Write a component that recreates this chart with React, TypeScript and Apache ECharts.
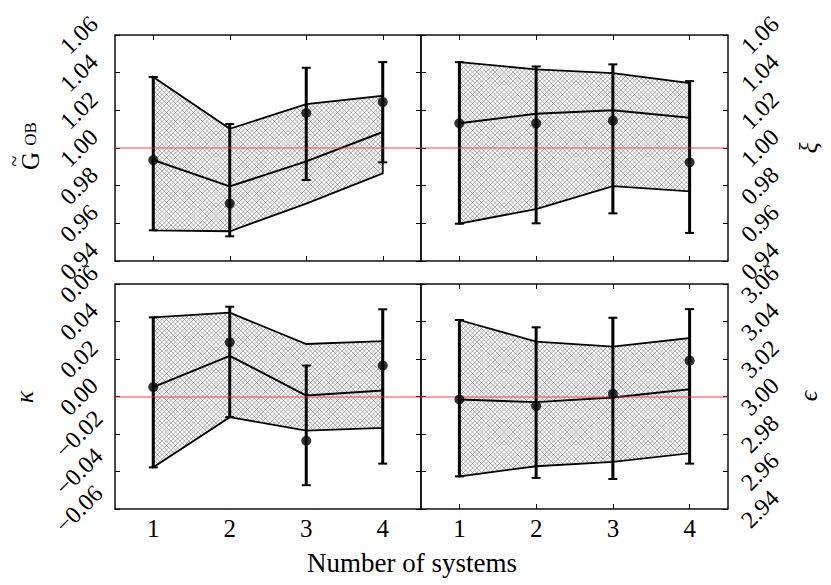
import React, { useEffect, useRef } from 'react';
import * as echarts from 'echarts';

// ---------- data ----------
const categories = ['1', '2', '3', '4'];

// Panel A: G_OB (top-left)
const gobPoint = [0.9936, 0.9705, 1.0186, 1.0244];
const gobErrLow = [0.9563, 0.9531, 0.983, 0.9924];
const gobErrHigh = [1.0377, 1.0127, 1.0426, 1.0456];
const gobUpper = [1.0377, 1.0102, 1.0233, 1.0277];
const gobMid = [0.9936, 0.9796, 0.9929, 1.0085];
const gobLower = [0.9563, 0.9558, 0.9705, 0.9865];
const gobRange = [0.94, 1.06];

// Panel B: xi (top-right)
const xiPoint = [1.0131, 1.0131, 1.0145, 0.9924];
const xiErrLow = [0.9598, 0.96, 0.9653, 0.9549];
const xiErrHigh = [1.0456, 1.0433, 1.0444, 1.0355];
const xiUpper = [1.0456, 1.0417, 1.0398, 1.0345];
const xiMid = [1.0131, 1.0182, 1.02, 1.0161];
const xiLower = [0.9598, 0.9676, 0.9798, 0.977];
const xiRange = [0.94, 1.06];

// Panel C: kappa (bottom-left)
const kPoint = [0.005, 0.0289, -0.0236, 0.0165];
const kErrLow = [-0.0378, -0.011, -0.0473, -0.0358];
const kErrHigh = [0.0422, 0.0479, 0.0165, 0.0465];
const kUpper = [0.0422, 0.0447, 0.028, 0.0295];
const kMid = [0.005, 0.0217, 0.0005, 0.0032];
const kLower = [-0.0378, -0.011, -0.0182, -0.0168];
const kRange = [-0.06, 0.06];

// Panel D: epsilon (bottom-right)
const ePoint = [2.9984, 2.9949, 3.0014, 3.0191];
const eErrLow = [2.9574, 2.9566, 2.956, 2.9642];
const eErrHigh = [3.0408, 3.0369, 3.042, 3.0466];
const eUpper = [3.0408, 3.0293, 3.0266, 3.0312];
const eMid = [2.9984, 2.997, 2.9995, 3.0039];
const eLower = [2.9574, 2.9628, 2.9651, 2.9697];
const eRange = [2.94, 3.06];

const refValues = [1.0, 1.0, 0.0, 3.0];
const yInterval = 0.02;
const xTitle = 'Number of systems';

// ---------- helpers ----------
const SERIF = 'Liberation Serif';
const HATCH_STEP = 4.5;

function fmt(v: number) {
  if (Math.abs(v) < 1e-9) return '0.00';
  return v.toFixed(2).replace('-', '\u2212');
}

export default function App() {
  const ref = useRef<HTMLDivElement>(null);

  useEffect(() => {
    const chart = echarts.init(ref.current!, undefined, { renderer: 'svg' });

    const panels = [
      { point: gobPoint, lo: gobErrLow, hi: gobErrHigh, up: gobUpper, mid: gobMid, low: gobLower, range: gobRange, side: 'left', xLabels: false },
      { point: xiPoint, lo: xiErrLow, hi: xiErrHigh, up: xiUpper, mid: xiMid, low: xiLower, range: xiRange, side: 'right', xLabels: false },
      { point: kPoint, lo: kErrLow, hi: kErrHigh, up: kUpper, mid: kMid, low: kLower, range: kRange, side: 'left', xLabels: true },
      { point: ePoint, lo: eErrLow, hi: eErrHigh, up: eUpper, mid: eMid, low: eLower, range: eRange, side: 'right', xLabels: true },
    ];

    const grids = [
      { left: 115, top: 35, width: 306, height: 226 },
      { left: 421, top: 35, width: 307, height: 226 },
      { left: 115, top: 284, width: 306, height: 225 },
      { left: 421, top: 284, width: 307, height: 225 },
    ].map((g) => ({ ...g, show: true, borderColor: '#111', borderWidth: 1.5 }));

    const xAxis: any[] = [];
    const yAxis: any[] = [];
    const series: any[] = [];

    panels.forEach((p, gi) => {
      ['bottom', 'top'].forEach((pos) => {
        xAxis.push({
          gridIndex: gi,
          type: 'category',
          data: categories,
          boundaryGap: true,
          position: pos,
          axisLine: { show: false },
          axisTick: { show: true, inside: true, length: 5, alignWithLabel: true, lineStyle: { color: '#000', width: 1 } },
          splitLine: { show: false },
          axisLabel: {
            show: pos === 'bottom' && p.xLabels,
            fontSize: 25,
            fontFamily: SERIF,
            color: '#000',
            margin: 7,
          },
        });
      });
      ['left', 'right'].forEach((pos) => {
        const main = pos === p.side;
        yAxis.push({
          gridIndex: gi,
          type: 'value',
          position: pos,
          min: p.range[0],
          max: p.range[1],
          interval: yInterval,
          axisLine: { show: false },
          axisTick: { show: true, inside: true, length: 5, lineStyle: { color: '#000', width: 1 } },
          splitLine: { show: false },
          axisLabel: {
            show: main,
            rotate: 45,
            align: 'center',
            verticalAlign: 'middle',
            margin: pos === 'left' ? 36 : 32,
            fontSize: 24,
            fontFamily: SERIF,
            color: '#000',
            formatter: (v: number) => fmt(v),
          },
        });
      });
      const xi = gi * 2;
      const yi = gi * 2;
      // hatched band (cross-hatch lines clipped to the band polygon)
      series.push({
        type: 'custom',
        xAxisIndex: xi,
        yAxisIndex: yi,
        z: 1,
        silent: true,
        data: [[0, p.up[0]]],
        renderItem: (_params: any, api: any) => {
          const pts: number[][] = [];
          p.up.forEach((v, i) => pts.push(api.coord([i, v])));
          for (let i = p.low.length - 1; i >= 0; i--) pts.push(api.coord([i, p.low[i]]));
          const xs = pts.map((q) => q[0]);
          const ys = pts.map((q) => q[1]);
          const x0 = Math.min(...xs) - 2, x1 = Math.max(...xs) + 2;
          const y0 = Math.min(...ys) - 2, y1 = Math.max(...ys) + 2;
          const lines: any[] = [];
          const hs = { stroke: '#909090', lineWidth: 0.7 };
          const cA0 = Math.floor((x0 - y1) / HATCH_STEP) * HATCH_STEP;
          for (let c = cA0; c <= x1 - y0; c += HATCH_STEP) {
            lines.push({ type: 'line', shape: { x1: y0 + c, y1: y0, x2: y1 + c, y2: y1 }, style: hs });
          }
          const cB0 = Math.floor((x0 + y0) / HATCH_STEP) * HATCH_STEP;
          for (let c = cB0; c <= x1 + y1; c += HATCH_STEP) {
            lines.push({ type: 'line', shape: { x1: c - y0, y1: y0, x2: c - y1, y2: y1 }, style: hs });
          }
          return {
            type: 'group',
            children: [
              { type: 'group', clipPath: { type: 'polygon', shape: { points: pts } }, children: lines },
              { type: 'polygon', shape: { points: pts }, style: { fill: 'none', stroke: '#000', lineWidth: 1.8 } },
            ],
          };
        },
      });
      // middle line + reference line
      series.push({
        type: 'line',
        xAxisIndex: xi,
        yAxisIndex: yi,
        z: 3,
        data: p.mid,
        symbol: 'none',
        silent: true,
        lineStyle: { color: '#000', width: 2 },
        markLine: {
          silent: true,
          symbol: ['none', 'none'],
          label: { show: false },
          lineStyle: { color: 'rgba(255,40,40,0.6)', width: 1.5, type: 'solid' },
          data: [{ yAxis: refValues[gi] }],
        },
      });
      // error bars
      series.push({
        type: 'custom',
        xAxisIndex: xi,
        yAxisIndex: yi,
        z: 4,
        silent: true,
        encode: { x: 0, y: [1, 2] },
        data: categories.map((_c, i) => [i, p.lo[i], p.hi[i]]),
        renderItem: (_params: any, api: any) => {
          const i = api.value(0);
          const top = api.coord([i, api.value(2)]);
          const bot = api.coord([i, api.value(1)]);
          const hw = 4.5;
          return {
            type: 'group',
            children: [
              { type: 'line', shape: { x1: top[0], y1: top[1], x2: bot[0], y2: bot[1] }, style: { stroke: '#000', lineWidth: 3 } },
              { type: 'line', shape: { x1: top[0] - hw, y1: top[1], x2: top[0] + hw, y2: top[1] }, style: { stroke: '#000', lineWidth: 2 } },
              { type: 'line', shape: { x1: bot[0] - hw, y1: bot[1], x2: bot[0] + hw, y2: bot[1] }, style: { stroke: '#000', lineWidth: 2 } },
            ],
          };
        },
      });
      // points
      series.push({
        type: 'scatter',
        xAxisIndex: xi,
        yAxisIndex: yi,
        z: 5,
        silent: true,
        symbolSize: 10,
        itemStyle: { color: '#000' },
        data: p.point,
      });
    });

    const graphic: any[] = [
      { type: 'text', x: 412, y: 563, style: { text: xTitle, fontSize: 27, fontFamily: SERIF, fill: '#000', align: 'center', verticalAlign: 'middle' } },
      { type: 'text', x: 30, y: 161, rotation: Math.PI / 2, style: { text: 'G', fontSize: 25, fontFamily: SERIF, fill: '#000', align: 'center', verticalAlign: 'middle' } },
      { type: 'text', x: 30, y: 134, rotation: Math.PI / 2, style: { text: 'OB', fontSize: 17, fontFamily: SERIF, fill: '#000', align: 'center', verticalAlign: 'middle' } },
      { type: 'text', x: 14, y: 161, rotation: Math.PI / 2, style: { text: '~', fontSize: 20, fontFamily: SERIF, fill: '#000', align: 'center', verticalAlign: 'middle' } },
      { type: 'text', x: 24, y: 397, rotation: Math.PI / 2, style: { text: '\u03BA', fontSize: 26, fontStyle: 'italic', fontFamily: SERIF, fill: '#000', align: 'center', verticalAlign: 'middle' } },
      { type: 'text', x: 808, y: 148, rotation: Math.PI / 2, style: { text: '\u03BE', fontSize: 26, fontStyle: 'italic', fontFamily: SERIF, fill: '#000', align: 'center', verticalAlign: 'middle' } },
      { type: 'text', x: 808, y: 396, rotation: Math.PI / 2, style: { text: '\u03F5', fontSize: 26, fontStyle: 'italic', fontFamily: SERIF, fill: '#000', align: 'center', verticalAlign: 'middle' } },
    ];

    chart.setOption({
      animation: false,
      grid: grids,
      xAxis,
      yAxis,
      series,
      graphic,
    });

    return () => chart.dispose();
  }, []);

  return <div ref={ref} style={{ width: 831, height: 585, margin: '-8px 0 0 -8px', background: '#fff' }} />;
}
